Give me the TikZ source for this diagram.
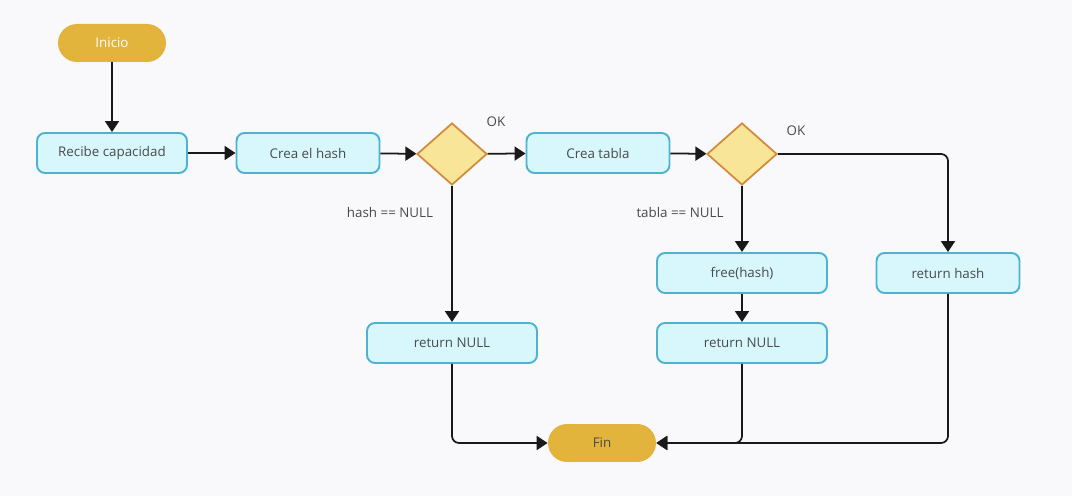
\documentclass[tikz,border=0pt]{standalone}
\usepackage{fontspec}
\setmainfont{Open Sans}
\usetikzlibrary{shapes.geometric,arrows.meta}
\definecolor{boxfill}{HTML}{D7F7FC}
\definecolor{boxline}{HTML}{4DB3D1}
\definecolor{decfill}{HTML}{F9E597}
\definecolor{decline}{HTML}{D38A3A}
\definecolor{pillfill}{HTML}{E2B43C}
\definecolor{txt}{HTML}{4A4A4A}
\definecolor{bg}{HTML}{F9F9FB}
\tikzset{
	flownode/.style = {align=center, inner sep=0pt, text centered, font=\fontsize{7.6}{9}\selectfont, text=txt},
	terminal/.style = {flownode, rectangle, fill=pillfill, rounded corners=0.38cm, minimum width=2.16cm, minimum height=0.76cm},
	proc/.style = {flownode, rectangle, draw=boxline, fill=boxfill, line width=1.1pt, rounded corners=0.16cm, minimum height=0.8cm},
	decision/.style = {flownode, diamond, draw=decline, fill=decfill, line width=1pt, minimum width=1.4cm, minimum height=1.24cm},
	lbl/.style = {flownode},
	flow/.style = {draw=black!90, line width=1pt, rounded corners=0.14cm, -{Triangle[length=0.22cm, width=0.28cm]}}
}
\begin{document}
\begin{tikzpicture}[x=0.02cm, y=-0.02cm]
		\fill [bg] (0,0) rectangle (1072,496);
		\useasboundingbox (0,0) rectangle (1072,496);
		% nodes
		\node [terminal, text=white] (inicio) at (112,43) {Inicio};
		\node [proc, minimum width=3cm] (recibe) at (112,153) {Recibe capacidad};
		\node [proc, minimum width=2.86cm] (creahash) at (308,153) {Crea el hash};
		\node [decision] (dhash) at (452,154) {};
		\node [proc, minimum width=2.86cm] (creatabla) at (598,153) {Crea tabla};
		\node [decision] (dtabla) at (742,154) {};
		\node [proc, minimum width=3.4cm] (freehash) at (742,273) {free(hash)};
		\node [proc, minimum width=2.86cm] (rethash) at (948,273) {return hash};
		\node [proc, minimum width=3.4cm] (nulla) at (452,343) {return NULL};
		\node [proc, minimum width=3.4cm] (nullb) at (742,343) {return NULL};
		\node [terminal] (fin) at (602,443) {Fin};
		% labels
		\node [lbl] (okhash) at (496,122) {OK};
		\node [lbl] (oktabla) at (796,131) {OK};
		\node [lbl] (nohash) at (390,212) {hash == NULL};
		\node [lbl] (notabla) at (680,212) {tabla == NULL};
		% connectors
		\draw [flow] (inicio) -- (recibe);
		\draw [flow] (recibe) -- (creahash);
		\draw [flow] (creahash) -- (dhash);
		\draw [flow] (dhash) -- (creatabla);
		\draw [flow] (creatabla) -- (dtabla);
		\draw [flow] (dtabla.east) -| (rethash);
		\draw [flow] (dhash) -- (nulla);
		\draw [flow] (dtabla) -- (freehash);
		\draw [flow] (freehash) -- (nullb);
		\draw [flow] (nulla) |- (fin);
		\draw [flow] (nullb) |- (fin);
		\draw [flow] (rethash) |- (fin);
\end{tikzpicture}
\end{document}
